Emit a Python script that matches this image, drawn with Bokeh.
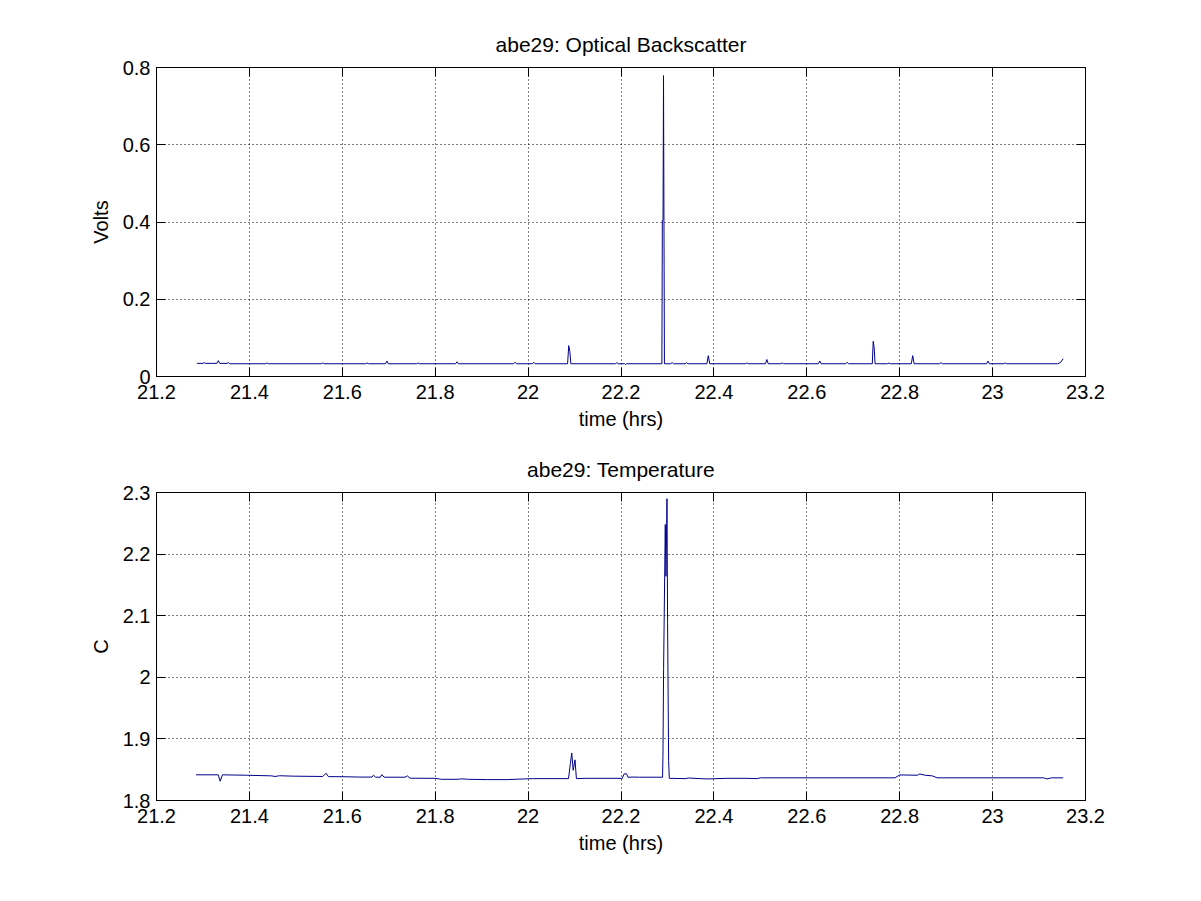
from bokeh.plotting import figure
from bokeh.layouts import column
from bokeh.models import Range1d, FixedTicker, LinearAxis, CustomLabelingPolicy
from bokeh.embed import file_html
from bokeh.resources import INLINE

# ---------------- data ----------------
obs_t = [21.287, 21.300, 21.303, 21.306, 21.318, 21.330, 21.333, 21.336, 21.352, 21.355,
         21.358, 21.400, 21.435, 21.438, 21.441, 21.500, 21.555, 21.558, 21.561, 21.600,
         21.650, 21.653, 21.656, 21.693, 21.696, 21.699, 21.760, 21.763, 21.766, 21.844,
         21.847, 21.850, 21.969, 21.972, 21.975, 22.009, 22.012, 22.015, 22.085, 22.0875,
         22.090, 22.092, 22.188, 22.191, 22.194, 22.208, 22.210, 22.212, 22.288, 22.289,
         22.2905, 22.2915, 22.2925, 22.2935, 22.307, 22.310, 22.313, 22.338, 22.341, 22.344,
         22.385, 22.388, 22.391, 22.468, 22.471, 22.474, 22.511, 22.514, 22.517, 22.544,
         22.547, 22.550, 22.625, 22.628, 22.631, 22.684, 22.687, 22.690, 22.741, 22.743,
         22.745, 22.747, 22.774, 22.777, 22.780, 22.825, 22.828, 22.831, 22.886, 22.889,
         22.892, 22.987, 22.990, 22.993, 23.024, 23.027, 23.030, 23.140, 23.146, 23.152]
obs_v = [0.034, 0.034, 0.036, 0.034, 0.034, 0.034, 0.041, 0.034, 0.034, 0.036,
         0.033, 0.033, 0.033, 0.035, 0.033, 0.033, 0.033, 0.035, 0.033, 0.033,
         0.033, 0.035, 0.033, 0.033, 0.040, 0.033, 0.033, 0.035, 0.033, 0.033,
         0.038, 0.033, 0.033, 0.037, 0.033, 0.033, 0.037, 0.033, 0.033, 0.080,
         0.064, 0.033, 0.033, 0.036, 0.033, 0.033, 0.031, 0.033, 0.033, 0.404,
         0.404, 0.779, 0.404, 0.033, 0.033, 0.036, 0.033, 0.033, 0.036, 0.033,
         0.033, 0.054, 0.033, 0.033, 0.035, 0.033, 0.033, 0.044, 0.033, 0.033,
         0.035, 0.033, 0.033, 0.040, 0.033, 0.033, 0.037, 0.033, 0.033, 0.091,
         0.075, 0.033, 0.033, 0.035, 0.033, 0.033, 0.054, 0.033, 0.033, 0.036,
         0.033, 0.033, 0.040, 0.033, 0.033, 0.035, 0.033, 0.033, 0.036, 0.046]

temp_t = [21.285, 21.333, 21.337, 21.342, 21.394, 21.448, 21.455, 21.465, 21.495, 21.558,
          21.565, 21.570, 21.610, 21.638, 21.664, 21.667, 21.672, 21.682, 21.685, 21.690,
          21.735, 21.740, 21.746, 21.800, 21.814, 21.850, 21.856, 21.872, 21.912, 21.955,
          21.990, 22.012, 22.087, 22.091, 22.094, 22.097, 22.101, 22.104, 22.125, 22.198,
          22.202, 22.207, 22.212, 22.215, 22.226, 22.240, 22.2895, 22.2903, 22.2917, 22.2953,
          22.2968, 22.2990, 22.3003, 22.3025, 22.3040, 22.338, 22.345, 22.385, 22.428, 22.471,
          22.493, 22.500, 22.790, 22.800, 22.838, 22.843, 22.855, 22.870, 22.881, 23.110,
          23.117, 23.127, 23.152]
temp_v = [1.8417, 1.8417, 1.8313, 1.8417, 1.8410, 1.8400, 1.8390, 1.8402, 1.8395, 1.8390,
          1.8443, 1.8388, 1.8385, 1.8380, 1.8380, 1.8410, 1.8378, 1.8378, 1.8420, 1.8378,
          1.8378, 1.8400, 1.8362, 1.8360, 1.8344, 1.8344, 1.8352, 1.8344, 1.8339, 1.8339,
          1.8350, 1.8355, 1.8355, 1.8600, 1.8770, 1.8490, 1.8660, 1.8355, 1.8360, 1.8360,
          1.8352, 1.8433, 1.8433, 1.8378, 1.8380, 1.8378, 1.8378, 1.8710, 2.0140, 2.2480,
          2.1640, 2.2900, 2.0890, 1.8650, 1.8360, 1.8355, 1.8365, 1.8350, 1.8360, 1.8360,
          1.8355, 1.8368, 1.8368, 1.8415, 1.8410, 1.8430, 1.8410, 1.8400, 1.8368, 1.8368,
          1.8350, 1.8368, 1.8368]

x_ticks = [21.2, 21.4, 21.6, 21.8, 22.0, 22.2, 22.4, 22.6, 22.8, 23.0, 23.2]
x_tick_labels = ["21.2", "21.4", "21.6", "21.8", "22", "22.2", "22.4", "22.6", "22.8", "23", "23.2"]
y1_ticks = [0.0, 0.2, 0.4, 0.6, 0.8]
y1_tick_labels = ["0", "0.2", "0.4", "0.6", "0.8"]
y2_ticks = [1.8, 1.9, 2.0, 2.1, 2.2, 2.3]
y2_tick_labels = ["1.8", "1.9", "2", "2.1", "2.2", "2.3"]

FONT = "Liberation Sans"
FS = "20px"
TITLE_FS = "21px"
LINE_COLOR = "#00008B"


def style_axis(ax, ticks, labels, show_labels=True):
    ax.ticker = FixedTicker(ticks=ticks)
    ax.major_label_overrides = {t: l for t, l in zip(ticks, labels)}
    ax.minor_tick_line_color = None
    ax.major_tick_in = 9
    ax.major_tick_out = 0
    ax.major_tick_line_color = "black"
    ax.axis_line_color = "black"
    ax.major_label_text_font = FONT
    ax.major_label_text_color = "black"
    ax.major_label_text_font_size = FS
    ax.axis_label_text_font = FONT
    ax.axis_label_text_font_size = FS
    ax.axis_label_text_font_style = "normal"
    ax.axis_label_text_color = "black"
    if not show_labels:
        ax.major_label_policy = CustomLabelingPolicy(code="return []")
        ax.major_label_text_font_size = "1px"
        ax.major_label_standoff = 0
        ax.axis_line_color = None


def make_panel(title, t, v, yr, yticks, ylabels, ylabel, height, top, bottom):
    p = figure(width=1193, height=height, output_backend="svg", toolbar_location=None,
               x_range=Range1d(21.2, 23.2), y_range=Range1d(*yr),
               min_border_left=156, min_border_right=108,
               min_border_top=top, min_border_bottom=bottom,
               background_fill_color="white", border_fill_color="white")
    p.title.text = title
    p.title.align = "center"
    p.title.text_font = FONT
    p.title.text_font_size = TITLE_FS
    p.title.text_font_style = "normal"
    p.title.text_color = "black"
    p.title.standoff = 16
    p.outline_line_color = "black"
    p.outline_line_width = 1
    p.outline_line_alpha = 1

    style_axis(p.xaxis[0], x_ticks, x_tick_labels)
    p.xaxis[0].axis_label = "time (hrs)"
    p.xaxis[0].major_label_standoff = 8
    p.xaxis[0].axis_label_standoff = 6
    style_axis(p.yaxis[0], yticks, ylabels)
    p.yaxis[0].axis_label = ylabel
    p.yaxis[0].major_label_standoff = 6
    p.yaxis[0].axis_label_standoff = 8

    top_ax = LinearAxis()
    style_axis(top_ax, x_ticks, x_tick_labels, show_labels=False)
    p.add_layout(top_ax, "above")
    right_ax = LinearAxis()
    style_axis(right_ax, yticks, ylabels, show_labels=False)
    p.add_layout(right_ax, "right")

    p.xgrid.ticker = FixedTicker(ticks=x_ticks)
    p.ygrid.ticker = FixedTicker(ticks=yticks)
    for g in (p.xgrid[0], p.ygrid[0]):
        g.grid_line_color = "black"
        g.grid_line_dash = "1 3"
        g.grid_line_width = 1
        g.grid_line_alpha = 1

    p.line(t, v, line_color=LINE_COLOR, line_width=1)
    return p


p1 = make_panel("abe29: Optical Backscatter", obs_t, obs_v, (0, 0.8),
                y1_ticks, y1_tick_labels, "Volts", 446, 67, 70)
p2 = make_panel("abe29: Temperature", temp_t, temp_v, (1.8, 2.3),
                y2_ticks, y2_tick_labels, "C", 440, 46, 86)

layout = column(p1, p2, spacing=0)
open("out.html", "w").write(file_html(layout, INLINE))
